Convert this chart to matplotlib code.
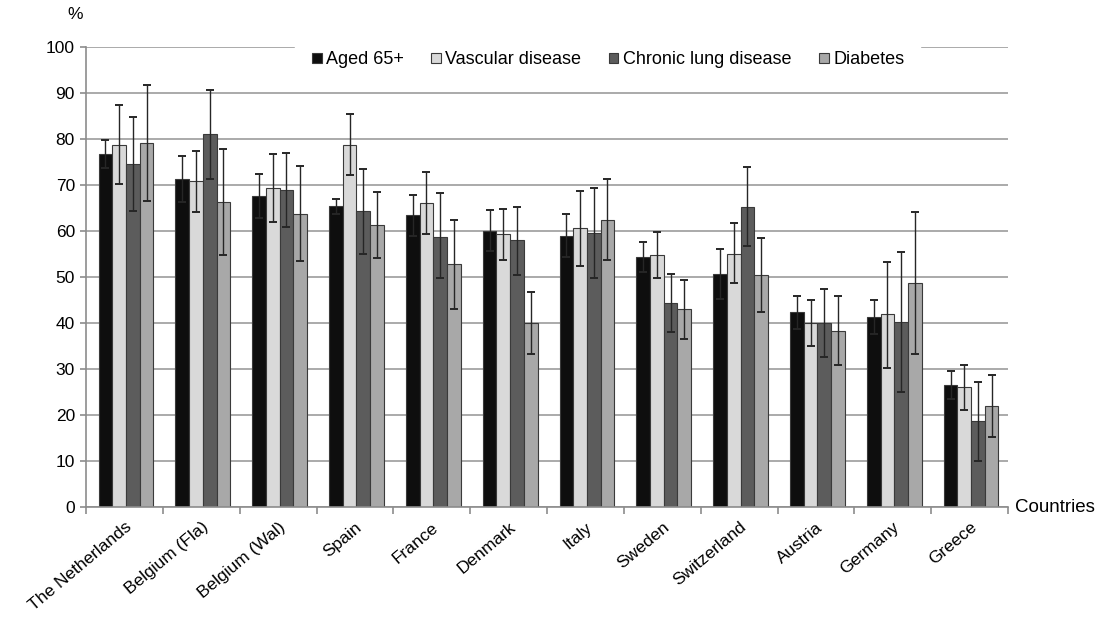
import numpy as np
import matplotlib
matplotlib.use("Agg")
import matplotlib.pyplot as plt
from matplotlib.patches import Patch

plt.rcParams['font.family'] = ['Liberation Sans', 'DejaVu Sans']

countries = ['The Netherlands', 'Belgium (Fla)', 'Belgium (Wal)', 'Spain', 'France',
             'Denmark', 'Italy', 'Sweden', 'Switzerland', 'Austria', 'Germany', 'Greece']
series = ['Aged 65+', 'Vascular disease', 'Chronic lung disease', 'Diabetes']

# values in %
aged = [76.7, 71.4, 67.6, 65.4, 63.4, 60.1, 59.0, 54.4, 50.7, 42.3, 41.4, 26.5]
vascular = [78.8, 70.9, 69.3, 78.8, 66.0, 59.3, 60.7, 54.8, 55.1, 40.1, 41.9, 26.1]
lung = [74.6, 81.1, 68.9, 64.3, 58.8, 58.0, 59.6, 44.3, 65.3, 40.1, 40.3, 18.6]
diabetes = [79.1, 66.4, 63.8, 61.4, 52.8, 40.1, 62.5, 43.0, 50.5, 38.3, 48.8, 22.0]

# upper / lower ends of the error bars
aged_hi = [79.8, 76.4, 72.3, 67.0, 67.8, 64.6, 63.6, 57.6, 56.2, 45.9, 45.1, 29.6]
aged_lo = [73.6, 66.4, 62.9, 63.8, 59.0, 55.6, 54.4, 51.2, 45.2, 38.7, 37.7, 23.4]
vascular_hi = [87.5, 77.5, 76.8, 85.4, 72.8, 64.9, 68.8, 59.9, 61.8, 45.1, 53.3, 30.9]
vascular_lo = [70.2, 64.2, 62.0, 72.2, 59.3, 53.7, 52.4, 49.9, 48.8, 35.0, 30.3, 21.0]
lung_hi = [84.9, 90.6, 77.0, 73.4, 68.2, 65.2, 69.4, 50.6, 74.0, 47.3, 55.5, 27.1]
lung_lo = [64.3, 71.4, 60.9, 55.1, 49.7, 50.5, 49.7, 38.0, 56.7, 32.7, 24.9, 10.1]
diabetes_hi = [91.7, 77.8, 74.2, 68.5, 62.3, 46.7, 71.4, 49.4, 58.4, 45.9, 64.2, 28.8]
diabetes_lo = [66.5, 54.9, 53.5, 54.2, 43.1, 33.2, 53.7, 36.5, 42.5, 30.8, 33.3, 15.2]

colors = ['#0e0e0e', '#d9d9d9', '#5c5c5c', '#a8a8a8']

values = [aged, vascular, lung, diabetes]
highs = [aged_hi, vascular_hi, lung_hi, diabetes_hi]
lows = [aged_lo, vascular_lo, lung_lo, diabetes_lo]

fig = plt.figure(figsize=(11.06, 6.36), dpi=100)
ax = fig.add_axes([0.0778, 0.2028, 0.8336, 0.7232])

x = np.arange(len(countries))
w = 0.178
for i, (v, hi, lo) in enumerate(zip(values, highs, lows)):
    v = np.array(v)
    err = [v - np.array(lo), np.array(hi) - v]
    ax.bar(x + (i - 1.5) * w + 0.02, v, w, color=colors[i], edgecolor='#3a3a3a',
           linewidth=0.8, zorder=2)
    ax.errorbar(x + (i - 1.5) * w + 0.02, v, yerr=err, fmt='none', ecolor='#262626',
                elinewidth=1.0, capsize=2.8, capthick=1.4, zorder=3)

ax.set_xlim(-0.5, len(countries) - 0.5)
ax.set_ylim(0, 100)
ax.set_yticks(np.arange(0, 101, 10))
ax.yaxis.grid(True, color='#a4a4a4', linewidth=1.3)
ax.set_axisbelow(True)
for s in ['top', 'right']:
    ax.spines[s].set_visible(False)
for s in ['left', 'bottom']:
    ax.spines[s].set_color('#8c8c8c')
    ax.spines[s].set_linewidth(1.2)

ax.tick_params(axis='y', colors='#8c8c8c', length=4, width=1.2, labelsize=12.5,
               labelcolor='black', pad=4)
ax.set_xticks(x)
ax.set_xticklabels(countries, rotation=40, ha='right', va='top',
                   rotation_mode='anchor', fontsize=12.5)
ax.tick_params(axis='x', length=0, pad=9)
ax.set_xticks(np.arange(-0.5, len(countries), 1), minor=True)
ax.tick_params(axis='x', which='minor', length=5, width=1.2, colors='#8c8c8c')

ax.text(-0.012, 1.07, '%', transform=ax.transAxes, fontsize=12.5, ha='center', va='center')
ax.text(1.008, 0.0, 'Countries', transform=ax.transAxes, fontsize=13.5, ha='left', va='center')

handles = [Patch(facecolor=c, edgecolor='#3a3a3a', linewidth=0.8) for c in colors]
leg = ax.legend(handles, series, loc='center', bbox_to_anchor=(0.566, 0.972), ncol=4,
                frameon=True, fancybox=False, framealpha=1, facecolor='white',
                edgecolor='white', fontsize=13, handlelength=0.55, handleheight=0.55,
                handletextpad=0.25, columnspacing=1.5, borderpad=0.9)
leg.set_zorder(5)

fig.savefig('out.png', dpi=100)
